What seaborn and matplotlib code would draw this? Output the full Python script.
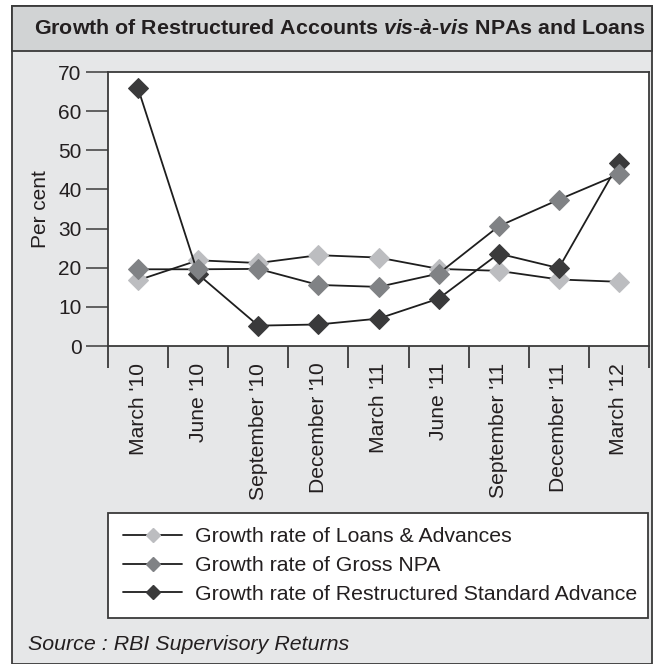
import pandas as pd
import matplotlib
matplotlib.use("Agg")
import matplotlib.pyplot as plt
import seaborn as sns
from matplotlib.patches import Rectangle
from matplotlib.lines import Line2D

# data
quarters = ["March '10", "June '10", "September '10", "December '10", "March '11",
            "June '11", "September '11", "December '11", "March '12"]
loans = [16.8, 21.9, 21.2, 23.2, 22.6, 19.7, 19.2, 17.0, 16.4]
gross_npa = [19.6, 19.6, 19.7, 15.6, 15.1, 18.5, 30.6, 37.4, 43.9]
restructured = [65.8, 18.3, 5.2, 5.5, 7.0, 12.1, 23.6, 19.9, 46.8]

names = ["Growth rate of Loans & Advances",
         "Growth rate of Gross NPA",
         "Growth rate of Restructured Standard Advance"]
marker_colors = ["#bcbdc0", "#808285", "#3a3a3b"]

sns.set_theme(style="white")
plt.rcParams["font.family"] = ["Liberation Sans", "DejaVu Sans"]
plt.rcParams["mathtext.fontset"] = "custom"
plt.rcParams["mathtext.it"] = "Liberation Sans:italic:bold"
plt.rcParams["mathtext.rm"] = "Liberation Sans:bold"

W, H = 654, 664
fig = plt.figure(figsize=(W / 100, H / 100), dpi=100, facecolor="white")

def fx(x):
    return x / W

def fy(y):
    return 1 - y / H

# grey panel with title band
fig.add_artist(Rectangle((fx(12), fy(664)), fx(652) - fx(12), fy(6) - fy(664),
                         transform=fig.transFigure, facecolor="#e6e7e8",
                         edgecolor="#3a3a3a", lw=1.3, zorder=0))
fig.add_artist(Rectangle((fx(12), fy(51)), fx(652) - fx(12), fy(6) - fy(51),
                         transform=fig.transFigure, facecolor="#d1d3d4",
                         edgecolor="#3a3a3a", lw=1.3, zorder=0))
fig.text(fx(340), fy(29),
         "Growth of Restructured Accounts $\\mathit{vis}$-$\\mathit{\u00e0}$-$\\mathit{vis}$ NPAs and Loans",
         ha="center", va="center", fontsize=15.4, fontweight="bold", color="#231f20")

ax = fig.add_axes([fx(108), fy(346), fx(649) - fx(108), fy(72) - fy(346)])
ax.set_facecolor("white")

series = [loans, gross_npa, restructured]
zorders = [2, 4, 3]
for vals, name, c, z in zip(series, names, marker_colors, zorders):
    df = pd.DataFrame({"quarter": quarters, "value": vals})
    sns.lineplot(data=df, x="quarter", y="value", ax=ax, color="#1e1e1e", lw=1.3,
                 marker="D", markersize=10, markerfacecolor=c, markeredgecolor=c,
                 sort=False, zorder=z, label=name)

ax.set_xlim(-0.5, len(quarters) - 0.5)
ax.set_ylim(0, 70)
ax.set_yticks(range(0, 71, 10))
ax.set_xticks(range(len(quarters)))
ax.set_xticklabels(quarters, rotation=90, fontsize=15.2, color="#231f20")
ax.set_xticks([i - 0.5 for i in range(len(quarters) + 1)], minor=True)
ax.tick_params(axis="x", which="major", length=0, pad=12)
ax.tick_params(axis="x", which="minor", length=16, width=1.3, color="#3a3a3a", bottom=True)
ax.tick_params(axis="y", length=16, width=1.3, color="#555555", labelsize=15,
               labelcolor="#231f20", left=True, pad=3)
ax.set_xlabel("")
ax.set_ylabel("Per cent", fontsize=15, color="#231f20", labelpad=6)
for s in ax.spines.values():
    s.set_color("#3a3a3a")
    s.set_linewidth(1.3)
ax.get_legend().remove()

handles = [Line2D([], [], color="#1e1e1e", lw=1.3, marker="D", markersize=7.5,
                  markerfacecolor=c, markeredgecolor=c) for c in marker_colors]
leg = fig.legend(handles, names, loc="center",
                 bbox_to_anchor=(fx(108), fy(622), fx(648) - fx(108), fy(509) - fy(622)),
                 bbox_transform=fig.transFigure, mode="expand", fontsize=15.3,
                 frameon=True, fancybox=False, handlelength=2.8, handletextpad=0.6,
                 labelspacing=0.45, borderpad=0.7, borderaxespad=0)
leg.get_frame().set_edgecolor("#3a3a3a")
leg.get_frame().set_linewidth(1.3)
leg.get_frame().set_facecolor("white")
leg.get_frame().set_alpha(1)
for t in leg.get_texts():
    t.set_color("#231f20")

fig.text(fx(28), fy(645), "Source : RBI Supervisory Returns", ha="left", va="center",
         fontsize=15.4, fontstyle="italic", color="#231f20")

fig.savefig("out.png", dpi=100, facecolor=fig.get_facecolor())
